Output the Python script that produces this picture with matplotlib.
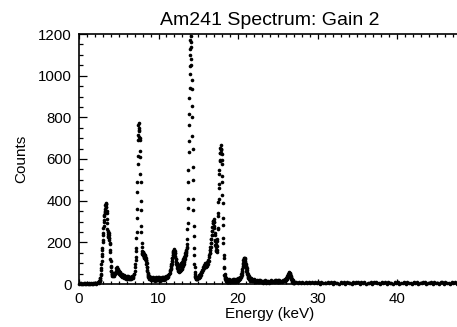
import numpy as np
import matplotlib
matplotlib.use("Agg")
import matplotlib.pyplot as plt
from matplotlib.ticker import MultipleLocator

plt.rcParams["font.family"] = ["Liberation Sans", "DejaVu Sans"]

# Am241 spectrum, counts.
# each piece: first energy (keV), channel step (keV), counts
counts_a = [0, 3, 1, 4, 0, 2, 5, 1, 3, 0, 4, 1, 2, 5, 0, 3, 1, 4, 2, 5,
            3, 6, 2, 7, 8]
counts_b = [7, 10, 9, 14, 13, 18, 19, 28, 30, 42, 48, 66, 75, 98, 110, 135,
            145, 165, 175, 200, 210, 236, 245, 270, 280, 300, 305, 326, 330,
            345, 352, 340, 362, 380, 368, 386, 390, 372, 385, 352, 340, 310,
            295, 262, 255, 232, 238, 252, 225, 244, 220, 236, 212, 222, 198,
            190, 162, 152, 120, 110, 85, 80, 62, 64, 50, 55, 44, 50, 40, 48,
            38, 46]
counts_c = [45, 52, 40, 50, 55, 48, 62, 60, 75, 70, 80, 66, 72, 55, 62, 48,
            56, 42, 53, 40, 48, 38, 46, 34, 44, 32, 42, 30, 40, 28, 38, 26,
            36, 30, 40, 25, 35, 28, 38, 24, 36, 27, 34, 23, 35, 26, 33, 28,
            38, 30, 40, 36, 46, 48, 64, 80]
counts_d = [95, 115, 128, 158, 175, 222, 250, 316, 360, 440, 490, 575, 615,
            690, 715, 765, 775, 748, 740, 705, 735, 690, 700, 640, 610, 530,
            490, 400, 355, 280, 248, 195, 178, 150, 158, 142, 155, 140, 152,
            138, 150, 132, 146, 130, 142, 126, 138, 124, 134, 118, 130, 114,
            124, 110, 116, 98, 100, 82, 84, 64, 66, 50, 52, 38, 44, 32, 40,
            28, 36, 26, 34, 25]
counts_e = [32, 24, 35, 20, 30, 18, 28, 22, 33, 17, 29, 21, 31, 16, 27, 24,
            34, 18, 29, 20, 32, 17, 26, 22, 35, 19, 30, 16, 28, 23, 33, 20,
            31, 25, 34, 21, 32, 26, 36, 24, 33, 28, 38, 30, 40, 33, 42, 38,
            46, 50, 52, 62]
counts_f1 = [66, 74, 75, 86, 86, 98, 98, 112, 112, 126, 126, 138, 140, 152,
             150, 160, 158, 166, 160, 164]
counts_f2 = [158, 160, 148, 150, 135, 132, 118, 118, 104, 106, 94, 98, 86,
             100, 78, 96, 72, 92, 68, 88, 64, 90, 62, 86, 60, 88, 64, 92, 62,
             90, 66, 94, 68, 96, 70, 100, 74, 102, 78, 106]
counts_f3 = [82, 110, 88, 114, 92, 118, 98, 124, 104, 128, 112, 134, 120, 140,
             130, 148, 140, 156, 150, 164, 160, 172, 178, 190, 215, 262, 295,
             365, 410, 490, 545, 632, 685, 765, 815, 895, 940, 1010, 1045, 1100]
counts_f4 = [1130, 1170, 1190, 1160, 1140, 1080, 1050, 980, 935, 855, 800,
             710, 650, 560, 500, 410, 355, 278, 230, 172, 138, 98, 80, 58, 50,
             36, 40, 28, 34, 24, 32, 22]
counts_g = [22, 32, 25, 35, 28, 38, 30, 42, 36, 50, 44, 58, 52, 66, 60, 74,
            68, 84, 76, 92, 82, 100, 85, 98, 80, 96, 88, 104, 98, 115, 110, 130]
counts_h = [138, 150, 150, 165, 165, 180, 180, 196, 196, 214, 214, 235, 235,
            256, 256, 276, 276, 292, 292, 304, 302, 310, 300, 296, 280, 270,
            245, 236, 212, 206, 188, 190, 165, 182, 160, 178, 155, 182, 165,
            205, 215, 262, 270, 325, 340, 392, 410, 462, 480, 530, 545, 590,
            595, 630, 630, 655, 650, 665, 645, 650, 630, 625, 595, 575, 520,
            490, 425, 390, 318, 285, 220, 195, 140, 125, 80, 76, 45, 50, 28,
            38, 22, 32, 18, 28, 15, 26, 14, 24, 12, 22, 11, 21, 10, 20, 9, 19]
counts_i = [10, 22, 12, 20, 8, 18, 11, 21, 9, 19, 13, 22, 8, 20, 12, 23,
            10, 18, 14, 24, 11, 22, 15, 25, 14, 27, 20, 28, 22, 32, 28, 35]
counts_j = [34, 46, 42, 58, 52, 70, 64, 86, 80, 100, 96, 114, 108, 124, 116,
            126, 114, 125, 110, 118, 100, 108, 88, 96, 76, 88, 64, 76, 55, 66,
            46, 58, 38, 50, 34, 44, 28, 40, 24, 36, 22, 33, 20, 30, 18, 29,
            16, 27]
counts_k = [26, 15, 24, 13, 22, 12, 20, 10, 19, 9, 18, 8, 17, 10, 16, 7,
            15, 9, 17, 6, 14, 8, 16, 7, 15, 9, 18, 8, 16, 10, 19, 9, 17, 11,
            20, 10, 18, 9, 16, 12, 19, 14, 20]
counts_l = [15, 22, 17, 24, 19, 26, 21, 28, 23, 31, 26, 35, 30, 40, 34, 45,
            40, 50, 45, 54, 50, 56, 52, 55, 48, 52, 42, 46, 36, 40, 30, 34,
            24, 28, 18, 24, 14, 20, 11, 17, 9, 15, 7, 14, 6, 12, 5, 11]
counts_m = [8, 11, 5, 9, 4, 8, 5, 10, 4, 9, 3, 8, 5, 9, 3,
            8, 2, 9, 3, 7, 4, 12, 3, 8, 2, 9, 4, 7, 2, 10, 3, 8, 2, 11, 4,
            7, 2, 9, 3, 8, 12, 2, 8, 3, 9, 2, 7, 4, 10, 2, 8, 11, 3, 7, 2,
            9, 3, 8, 2, 10, 4, 7, 2, 9, 3,
            8, 2, 7, 3, 9, 2, 11, 4, 7, 2, 8, 3, 9, 2, 7, 3, 8, 10, 2, 7,
            3, 9, 2, 8, 3, 7, 2, 9, 11, 2, 8, 3, 7, 2, 9, 3, 8, 2, 7, 3]

pieces = [(0.0, 0.1, counts_a), (2.5, 0.025, counts_b), (4.3, 0.05, counts_c),
          (7.1, 0.025, counts_d), (8.9, 0.05, counts_e),
          (11.5, 0.025, counts_f1), (12.0, 0.025, counts_f2),
          (13.0, 0.025, counts_f3), (14.0, 0.025, counts_f4),
          (14.8, 0.05, counts_g), (16.4, 0.025, counts_h), (18.8, 0.05, counts_i),
          (20.4, 0.025, counts_j), (21.6, 0.1, counts_k), (25.9, 0.025, counts_l),
          (27.1, 0.2, counts_m)]

energy = np.concatenate([e0 + de * np.arange(len(c)) for e0, de, c in pieces])
counts = np.concatenate([np.asarray(c, float) for _, _, c in pieces])

fig = plt.figure(figsize=(4.57, 3.27), dpi=100)
ax = fig.add_axes([79 / 457, 1 - 284 / 327, 381.6 / 457, 250 / 327])
ax.plot(energy, counts, "o", ms=2.6, color="k", mew=0, clip_on=False)

ax.set_xlim(0, 48)
ax.set_ylim(0, 1200)
ax.xaxis.set_major_locator(MultipleLocator(10))
ax.xaxis.set_minor_locator(MultipleLocator(1))
ax.yaxis.set_major_locator(MultipleLocator(200))
ax.yaxis.set_minor_locator(MultipleLocator(50))

ax.tick_params(which="both", direction="in", top=True, right=False,
               width=0.9, labelsize=10.8, color="k")
ax.tick_params(axis="x", which="major", length=3.8, pad=6)
ax.tick_params(axis="x", which="minor", length=1.9)
ax.tick_params(axis="y", which="major", length=5.5, pad=5)
ax.tick_params(axis="y", which="minor", length=2.8)
for side in ["left", "bottom", "top"]:
    ax.spines[side].set_linewidth(1.2)
ax.spines["right"].set_visible(False)

ax.set_title("Am241 Spectrum: Gain 2", fontsize=14, pad=6.8)
ax.set_xlabel("Energy (keV)", fontsize=11)
ax.set_ylabel("Counts", fontsize=11)
ax.xaxis.set_label_coords(0.5, -(307 - 284) / 250)
ax.yaxis.set_label_coords(-(79 - 28) / 381.6, 0.5)

fig.savefig("out.png", dpi=100)
